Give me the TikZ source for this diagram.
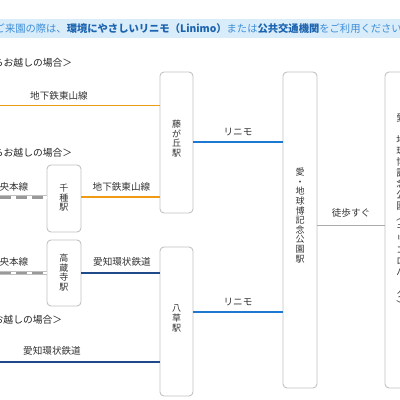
\documentclass[tikz,border=0pt]{standalone}
\usepackage{fontspec}
\setmainfont{Noto Sans CJK JP}
\definecolor{boxgray}{HTML}{C2C2C2}
\definecolor{txt}{HTML}{333333}
\definecolor{orangeline}{HTML}{EE9A12}
\definecolor{linimo}{HTML}{1C78D0}
\definecolor{aikan}{HTML}{1F4A8A}
\definecolor{walk}{HTML}{ABABAB}
\definecolor{bannerbg}{HTML}{D9ECFA}
\definecolor{bannertxt}{HTML}{3E8ED6}
\definecolor{bannerbold}{HTML}{1B63AE}
\begin{document}
\begin{tikzpicture}[x=1pt,y=-1pt,
  stn/.style={draw=boxgray, line width=0.9pt, rounded corners=4pt, fill=white, inner sep=0pt},
  vtext/.style={inner sep=0pt, align=center, text=txt, font=\fontsize{9}{9.6}\selectfont},
  lbl/.style={inner sep=0pt, text=txt, font=\fontsize{9.6}{10}\selectfont},
  head/.style={inner sep=0pt, text=black!85, font=\fontsize{9.8}{10}\selectfont, anchor=east},
  subway/.style={draw=orangeline, line width=1.8pt},
  aikanline/.style={draw=aikan, line width=1.8pt},
  linimoline/.style={draw=linimo, line width=1.8pt},
  walkline/.style={draw=walk, line width=1.4pt},
  jrbase/.style={draw=gray!50, line width=4pt},
  jrwhite/.style={draw=white, line width=2.4pt},
  jrdash/.style={draw=gray!80, line width=2.4pt, dash pattern=on 11pt off 5pt}
]
\useasboundingbox (0,0) rectangle (400,400);
\clip (0,0) rectangle (400,400);
\fill[white] (0,0) rectangle (400,400);

% banner
\fill[bannerbg] (0,19) rectangle (400,38);
\node[anchor=west, inner sep=0pt, font=\fontsize{10.3}{11}\selectfont, text=bannertxt] (banner) at (-5.5,29)
  {ご来園の際は、{\bfseries\color{bannerbold}環境にやさしいリニモ（Linimo）}または{\bfseries\color{bannerbold}公共交通機関}をご利用ください。};

% headings
\node[head] (h1) at (72.5,63) {からお越しの場合＞};
\node[head] (h2) at (72.5,153) {からお越しの場合＞};
\node[head] (h3) at (62.5,320) {からお越しの場合＞};

% station boxes
\node[stn, minimum width=33pt, minimum height=141pt] (fuji) at (176.5,142.5) {};
\node[stn, minimum width=34pt, minimum height=67pt] (chikusa) at (64,198.5) {};
\node[stn, minimum width=34pt, minimum height=66pt] (kozoji) at (64,273) {};
\node[stn, minimum width=33pt, minimum height=149pt] (yakusa) at (176.5,321.5) {};
\node[stn, minimum width=34pt, minimum height=316pt] (expo) at (300,230) {};
\node[stn, minimum width=40pt, minimum height=316pt] (park) at (405,230) {};

% station names
\node[vtext] (tfuji) at (176.5,138.5) {藤\\が\\丘\\駅};
\node[vtext] (tchikusa) at (64,198) {千\\種\\駅};
\node[vtext] (tkozoji) at (64,272.5) {高\\蔵\\寺\\駅};
\node[vtext] (tyakusa) at (176.5,318.5) {八\\草\\駅};
\node[vtext] (texpo) at (300,215.5) {愛\\・\\地\\球\\博\\記\\念\\公\\園\\駅};
\node[inner sep=0pt, align=center, text=txt, font=\fontsize{9.5}{11}\selectfont] (tpark) at (401,211)
  {愛\\・\\地\\球\\博\\記\\念\\公\\園\\︵\\モ\\リ\\コ\\ロ\\パ\\︱\\ク\\︶};

% coordinates for lines
\coordinate (a1) at (0,105.5);
\coordinate (b1) at (0,197.3);
\coordinate (c1) at (0,272.7);
\coordinate (d1) at (0,361.7);
\coordinate (l1) at (0,142);
\coordinate (l2) at (0,312);
\coordinate (w1) at (0,225.7);

% subway lines
\draw[subway] (a1) -- (a1 -| fuji.west);
\draw[subway] (b1 -| chikusa.east) -- (b1 -| fuji.west);
% JR lines
\draw[jrbase] (b1) -- (b1 -| chikusa.west);
\draw[jrwhite] (b1) -- (b1 -| chikusa.west);
\draw[jrdash] (b1) -- (b1 -| chikusa.west);
\draw[jrbase] (c1) -- (c1 -| kozoji.west);
\draw[jrwhite] (c1) -- (c1 -| kozoji.west);
\draw[jrdash] (c1) -- (c1 -| kozoji.west);
% Aichi loop line
\draw[aikanline] (c1 -| kozoji.east) -- (c1 -| yakusa.west);
\draw[aikanline] (d1) -- (d1 -| yakusa.west);
% Linimo
\draw[linimoline] (l1 -| fuji.east) -- (l1 -| expo.west);
\draw[linimoline] (l2 -| yakusa.east) -- (l2 -| expo.west);
% walk
\draw[walkline] (w1 -| expo.east) -- (w1 -| park.west);

% line labels
\node[lbl] (la1) at (59,95.7) {地下鉄東山線};
\node[lbl] (lb1) at (121.5,187) {地下鉄東山線};
\node[lbl, anchor=east] (lb0) at (28.5,187) {中央本線};
\node[lbl, anchor=east] (lc0) at (28.5,262) {中央本線};
\node[lbl] (lc1) at (122,262) {愛知環状鉄道};
\node[lbl] (ld1) at (52,350.5) {愛知環状鉄道};
\node[lbl] (ll1) at (238,132) {リニモ};
\node[lbl] (ll2) at (238,302) {リニモ};
\node[lbl] (lw1) at (351,213) {徒歩すぐ};
\end{tikzpicture}
\end{document}
